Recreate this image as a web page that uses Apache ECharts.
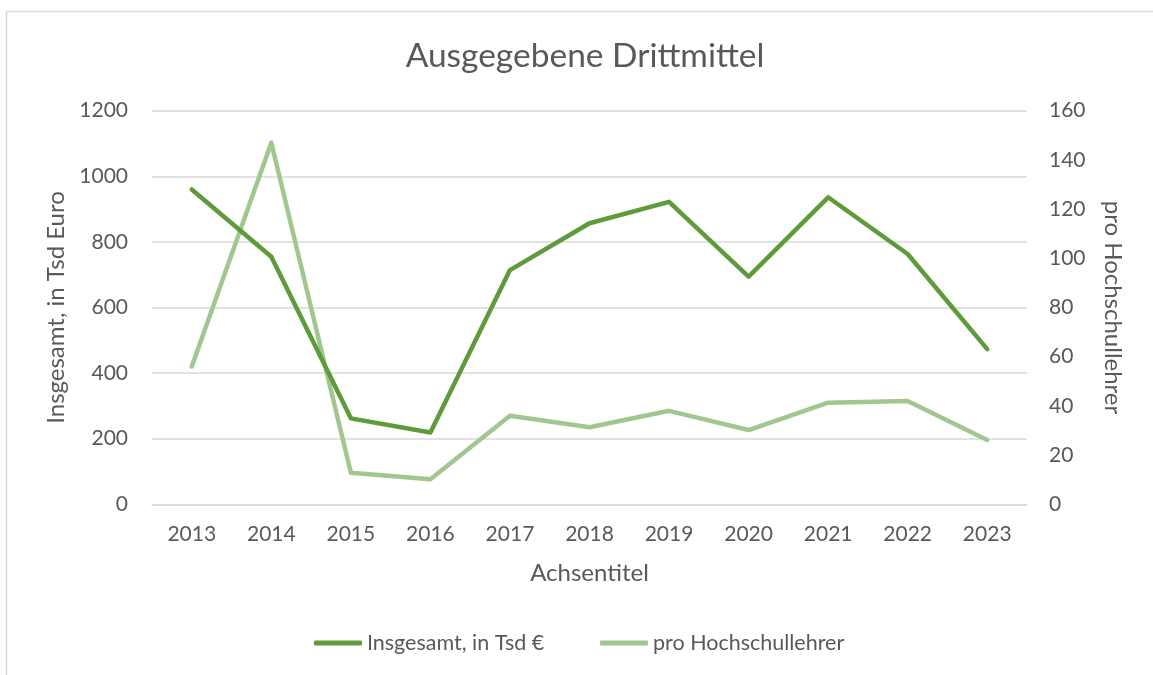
<!DOCTYPE html>
<html>
<head>
<meta charset="utf-8">
<script src="https://cdn.jsdelivr.net/npm/echarts@6/dist/echarts.min.js"></script>
<style>
html,body{margin:0;padding:0;background:#fff;}
#chart{width:1153px;height:675px;}
</style>
</head>
<body>
<div id="chart"></div>
<script>
const years = ['2013','2014','2015','2016','2017','2018','2019','2020','2021','2022','2023'];
const insgesamt = [960, 755, 262, 219, 714, 857, 922, 694, 936, 763, 473];
const proHochschullehrer = [56, 147, 12.8, 10.2, 36, 31.3, 38, 30.2, 41.3, 42, 26.1];
const leftTicks = {min: 0, max: 1200, interval: 200};
const rightTicks = {min: 0, max: 160, interval: 20};
const seriesNames = ['Insgesamt, in Tsd €', 'pro Hochschullehrer'];

const FONT = 'Lato';
const TXT = '#595959';
const DARK = '#5e9b3b';
const LIGHT = '#a2c68f';
const GRID = '#d9d9d9';

const legendBase = {
  top: 632,
  padding: 0,
  itemWidth: 48, itemHeight: 5,
  icon: 'roundRect',
  textStyle: {fontFamily: FONT, fontSize: 21.5, color: TXT}
};

const chart = echarts.init(document.getElementById('chart'), null, {renderer: 'canvas'});
chart.setOption({
  backgroundColor: '#fff',
  textStyle: {fontFamily: FONT, color: TXT},
  animation: false,
  graphic: [{
    type: 'rect',
    shape: {x: 6.5, y: 11.5, width: 1200, height: 700},
    style: {fill: 'none', stroke: GRID, lineWidth: 1.5},
    silent: true
  }],
  title: {
    text: 'Ausgegebene Drittmittel',
    left: 580, top: 34, textAlign: 'center',
    textStyle: {fontFamily: FONT, fontSize: 33.5, fontWeight: 'normal', color: TXT}
  },
  legend: [
    Object.assign({left: 314, data: [seriesNames[0]]}, legendBase),
    Object.assign({left: 600, data: [seriesNames[1]]}, legendBase)
  ],
  grid: {left: 152, right: 126, top: 110.7, bottom: 170.7},
  xAxis: {
    type: 'category',
    data: years,
    boundaryGap: true,
    name: 'Achsentitel',
    nameLocation: 'middle',
    nameGap: 57,
    nameTextStyle: {fontFamily: FONT, fontSize: 24, color: TXT},
    axisLine: {show: true, lineStyle: {color: GRID, width: 1.5}},
    axisTick: {show: false},
    axisLabel: {fontFamily: FONT, fontSize: 21, color: TXT, margin: 19}
  },
  yAxis: [{
    type: 'value',
    min: leftTicks.min, max: leftTicks.max, interval: leftTicks.interval,
    name: 'Insgesamt, in Tsd Euro',
    nameLocation: 'middle',
    nameGap: 81,
    nameTextStyle: {fontFamily: FONT, fontSize: 24, color: TXT},
    axisLine: {show: false},
    axisTick: {show: false},
    splitLine: {show: true, lineStyle: {color: GRID, width: 1.5}},
    axisLabel: {fontFamily: FONT, fontSize: 21, color: TXT, margin: 24, formatter: v => String(v)}
  }, {
    type: 'value',
    position: 'right',
    min: rightTicks.min, max: rightTicks.max, interval: rightTicks.interval,
    name: 'pro Hochschullehrer',
    nameLocation: 'middle',
    nameRotate: -90,
    nameGap: 74,
    nameTextStyle: {fontFamily: FONT, fontSize: 24, color: TXT},
    axisLine: {show: false},
    axisTick: {show: false},
    splitLine: {show: false},
    axisLabel: {fontFamily: FONT, fontSize: 21, color: TXT, margin: 22, formatter: v => String(v)}
  }],
  series: [{
    name: seriesNames[0],
    type: 'line',
    yAxisIndex: 0,
    data: insgesamt,
    symbol: 'none',
    color: DARK,
    lineStyle: {color: DARK, width: 4.5, cap: 'round', join: 'round'},
    z: 3
  }, {
    name: seriesNames[1],
    type: 'line',
    yAxisIndex: 1,
    data: proHochschullehrer,
    symbol: 'none',
    color: LIGHT,
    lineStyle: {color: LIGHT, width: 4.5, cap: 'round', join: 'round'},
    z: 2
  }]
});
</script>
</body>
</html>
